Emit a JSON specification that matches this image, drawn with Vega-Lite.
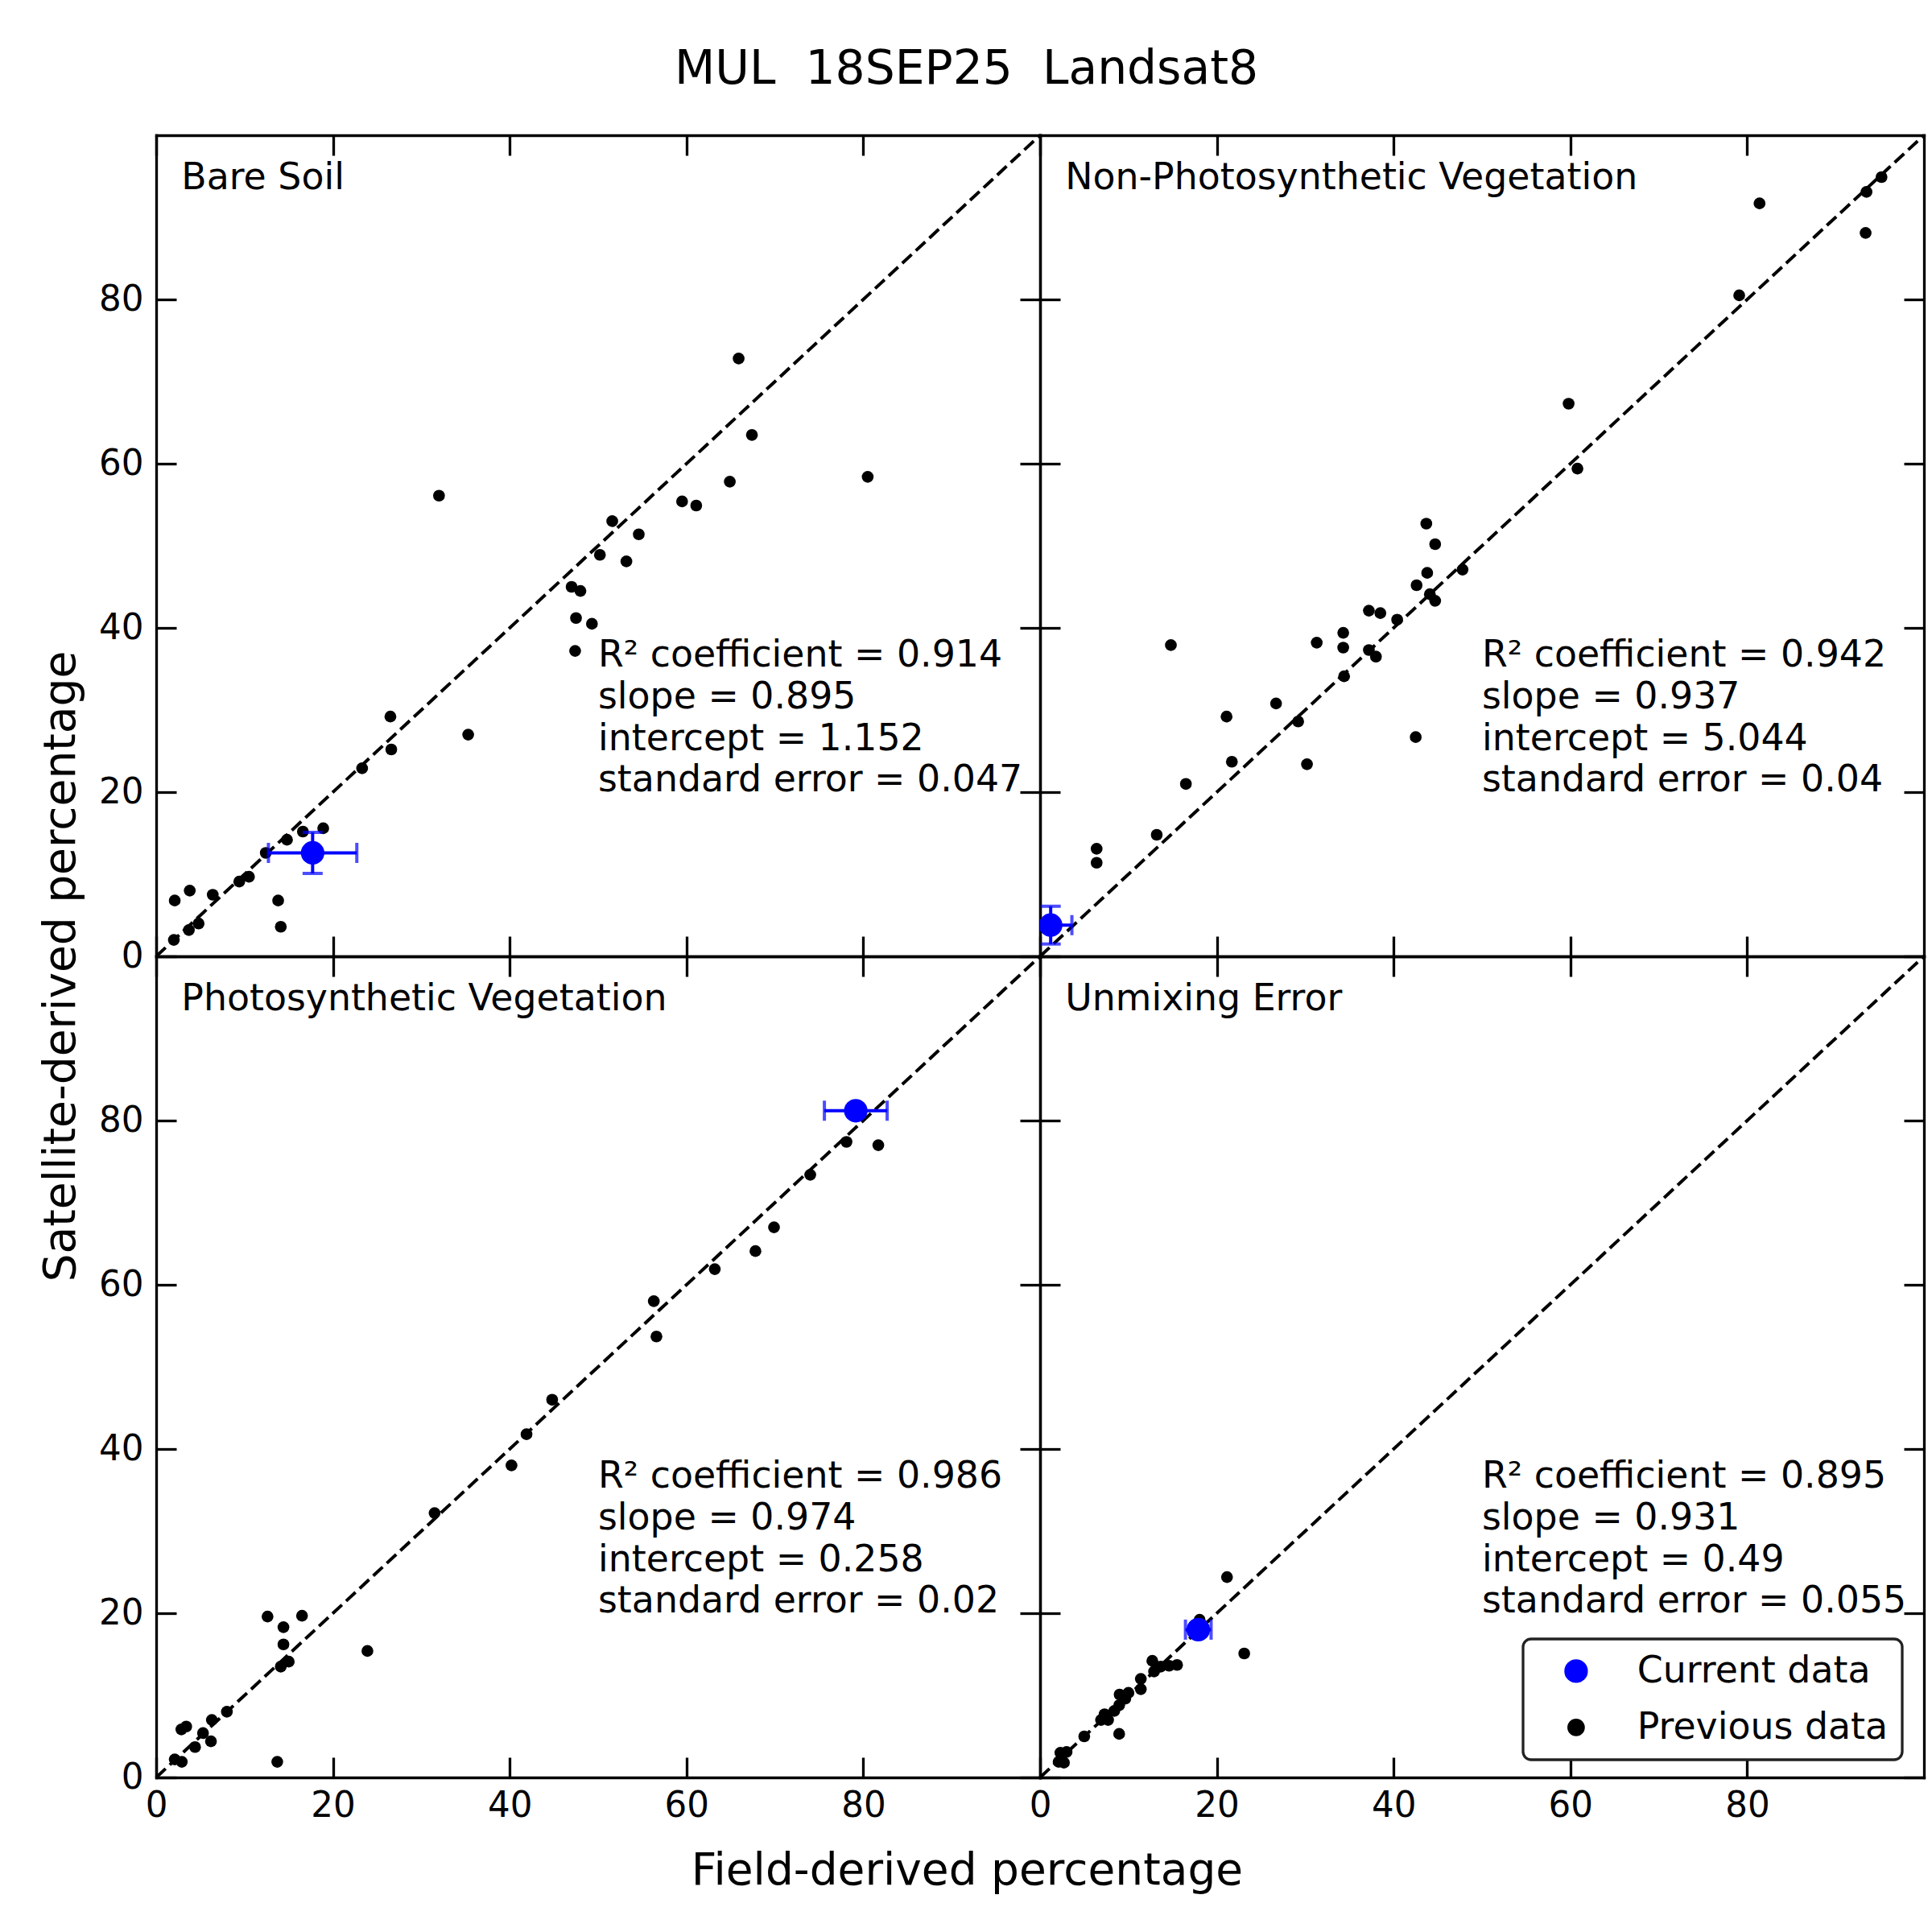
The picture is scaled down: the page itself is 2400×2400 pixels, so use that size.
{
  "$schema": "https://vega.github.io/schema/vega-lite/v6.json",
  "padding": {"left": 47, "top": 56, "right": 8, "bottom": 10},
  "title": {
    "text": "MUL\u00a0 18SEP25\u00a0 Landsat8",
    "font": "DejaVu Sans", "fontSize": 58.3, "fontWeight": "normal", "color": "black",
    "anchor": "start", "frame": "group", "dx": 644, "baseline": "alphabetic", "offset": 4
  },
  "config": {
    "font": "DejaVu Sans",
    "view": {"stroke": null},
    "axis": {
      "domainColor": "black", "domainWidth": 3.3, "domainCap": "square",
      "tickColor": "black", "tickWidth": 3.3, "tickSize": -25,
      "labelFont": "DejaVu Sans", "labelFontSize": 43.6, "labelColor": "black",
      "labelFlush": false, "labelOverlap": false, "grid": false,
      "titleFont": "DejaVu Sans", "titleFontSize": 55, "titleFontWeight": "normal", "titleColor": "black"
    },
    "axisX": {"labelPadding": 39.6},
    "axisY": {"labelPadding": 41},
    "circle": {"opacity": 1}
  },
  "datasets": {
    "previous": [
      {"panel": "Bare Soil", "field": 2.0, "satellite": 2.0},
      {"panel": "Bare Soil", "field": 2.1, "satellite": 6.8},
      {"panel": "Bare Soil", "field": 3.7, "satellite": 3.2},
      {"panel": "Bare Soil", "field": 3.8, "satellite": 8.0},
      {"panel": "Bare Soil", "field": 4.8, "satellite": 4.0},
      {"panel": "Bare Soil", "field": 6.4, "satellite": 7.5},
      {"panel": "Bare Soil", "field": 9.4, "satellite": 9.1},
      {"panel": "Bare Soil", "field": 10.5, "satellite": 9.7},
      {"panel": "Bare Soil", "field": 12.4, "satellite": 12.6},
      {"panel": "Bare Soil", "field": 13.8, "satellite": 6.8},
      {"panel": "Bare Soil", "field": 14.1, "satellite": 3.6},
      {"panel": "Bare Soil", "field": 14.8, "satellite": 14.2},
      {"panel": "Bare Soil", "field": 16.6, "satellite": 15.2},
      {"panel": "Bare Soil", "field": 18.9, "satellite": 15.6},
      {"panel": "Bare Soil", "field": 23.3, "satellite": 22.9},
      {"panel": "Bare Soil", "field": 26.6, "satellite": 25.2},
      {"panel": "Bare Soil", "field": 26.5, "satellite": 29.2},
      {"panel": "Bare Soil", "field": 32.0, "satellite": 56.1},
      {"panel": "Bare Soil", "field": 35.3, "satellite": 27.0},
      {"panel": "Bare Soil", "field": 47.0, "satellite": 45.0},
      {"panel": "Bare Soil", "field": 48.0, "satellite": 44.5},
      {"panel": "Bare Soil", "field": 47.5, "satellite": 41.2},
      {"panel": "Bare Soil", "field": 47.4, "satellite": 37.2},
      {"panel": "Bare Soil", "field": 49.3, "satellite": 40.5},
      {"panel": "Bare Soil", "field": 50.2, "satellite": 48.9},
      {"panel": "Bare Soil", "field": 51.6, "satellite": 53.0},
      {"panel": "Bare Soil", "field": 53.2, "satellite": 48.1},
      {"panel": "Bare Soil", "field": 54.6, "satellite": 51.4},
      {"panel": "Bare Soil", "field": 59.5, "satellite": 55.4},
      {"panel": "Bare Soil", "field": 61.1, "satellite": 54.9},
      {"panel": "Bare Soil", "field": 64.9, "satellite": 57.8},
      {"panel": "Bare Soil", "field": 65.9, "satellite": 72.8},
      {"panel": "Bare Soil", "field": 67.4, "satellite": 63.5},
      {"panel": "Bare Soil", "field": 80.5, "satellite": 58.4},

      {"panel": "Non-Photosynthetic Vegetation", "field": 6.4, "satellite": 13.1},
      {"panel": "Non-Photosynthetic Vegetation", "field": 6.4, "satellite": 11.4},
      {"panel": "Non-Photosynthetic Vegetation", "field": 13.2, "satellite": 14.8},
      {"panel": "Non-Photosynthetic Vegetation", "field": 14.8, "satellite": 37.9},
      {"panel": "Non-Photosynthetic Vegetation", "field": 16.5, "satellite": 21.0},
      {"panel": "Non-Photosynthetic Vegetation", "field": 21.1, "satellite": 29.2},
      {"panel": "Non-Photosynthetic Vegetation", "field": 21.7, "satellite": 23.7},
      {"panel": "Non-Photosynthetic Vegetation", "field": 26.7, "satellite": 30.8},
      {"panel": "Non-Photosynthetic Vegetation", "field": 29.2, "satellite": 28.6},
      {"panel": "Non-Photosynthetic Vegetation", "field": 30.2, "satellite": 23.4},
      {"panel": "Non-Photosynthetic Vegetation", "field": 31.3, "satellite": 38.2},
      {"panel": "Non-Photosynthetic Vegetation", "field": 34.3, "satellite": 39.4},
      {"panel": "Non-Photosynthetic Vegetation", "field": 34.3, "satellite": 37.6},
      {"panel": "Non-Photosynthetic Vegetation", "field": 34.4, "satellite": 34.1},
      {"panel": "Non-Photosynthetic Vegetation", "field": 37.2, "satellite": 42.1},
      {"panel": "Non-Photosynthetic Vegetation", "field": 38.5, "satellite": 41.8},
      {"panel": "Non-Photosynthetic Vegetation", "field": 37.2, "satellite": 37.3},
      {"panel": "Non-Photosynthetic Vegetation", "field": 38.0, "satellite": 36.5},
      {"panel": "Non-Photosynthetic Vegetation", "field": 40.4, "satellite": 41.0},
      {"panel": "Non-Photosynthetic Vegetation", "field": 42.5, "satellite": 26.7},
      {"panel": "Non-Photosynthetic Vegetation", "field": 42.6, "satellite": 45.2},
      {"panel": "Non-Photosynthetic Vegetation", "field": 43.7, "satellite": 52.7},
      {"panel": "Non-Photosynthetic Vegetation", "field": 43.8, "satellite": 46.7},
      {"panel": "Non-Photosynthetic Vegetation", "field": 44.1, "satellite": 44.1},
      {"panel": "Non-Photosynthetic Vegetation", "field": 44.7, "satellite": 50.2},
      {"panel": "Non-Photosynthetic Vegetation", "field": 44.7, "satellite": 43.3},
      {"panel": "Non-Photosynthetic Vegetation", "field": 47.8, "satellite": 47.1},
      {"panel": "Non-Photosynthetic Vegetation", "field": 59.8, "satellite": 67.3},
      {"panel": "Non-Photosynthetic Vegetation", "field": 60.8, "satellite": 59.4},
      {"panel": "Non-Photosynthetic Vegetation", "field": 79.1, "satellite": 80.5},
      {"panel": "Non-Photosynthetic Vegetation", "field": 81.4, "satellite": 91.7},
      {"panel": "Non-Photosynthetic Vegetation", "field": 93.4, "satellite": 88.1},
      {"panel": "Non-Photosynthetic Vegetation", "field": 93.5, "satellite": 93.1},
      {"panel": "Non-Photosynthetic Vegetation", "field": 95.2, "satellite": 94.9},

      {"panel": "Photosynthetic Vegetation", "field": 2.1, "satellite": 2.2},
      {"panel": "Photosynthetic Vegetation", "field": 2.9, "satellite": 1.9},
      {"panel": "Photosynthetic Vegetation", "field": 2.85, "satellite": 5.85},
      {"panel": "Photosynthetic Vegetation", "field": 3.4, "satellite": 6.2},
      {"panel": "Photosynthetic Vegetation", "field": 4.4, "satellite": 3.7},
      {"panel": "Photosynthetic Vegetation", "field": 5.3, "satellite": 5.4},
      {"panel": "Photosynthetic Vegetation", "field": 6.2, "satellite": 4.4},
      {"panel": "Photosynthetic Vegetation", "field": 6.3, "satellite": 7.0},
      {"panel": "Photosynthetic Vegetation", "field": 8.0, "satellite": 8.0},
      {"panel": "Photosynthetic Vegetation", "field": 12.6, "satellite": 19.6},
      {"panel": "Photosynthetic Vegetation", "field": 13.7, "satellite": 1.9},
      {"panel": "Photosynthetic Vegetation", "field": 14.1, "satellite": 13.5},
      {"panel": "Photosynthetic Vegetation", "field": 14.4, "satellite": 18.3},
      {"panel": "Photosynthetic Vegetation", "field": 14.4, "satellite": 16.2},
      {"panel": "Photosynthetic Vegetation", "field": 15.0, "satellite": 14.1},
      {"panel": "Photosynthetic Vegetation", "field": 16.5, "satellite": 19.7},
      {"panel": "Photosynthetic Vegetation", "field": 23.9, "satellite": 15.4},
      {"panel": "Photosynthetic Vegetation", "field": 31.5, "satellite": 32.2},
      {"panel": "Photosynthetic Vegetation", "field": 40.2, "satellite": 38.0},
      {"panel": "Photosynthetic Vegetation", "field": 41.9, "satellite": 41.8},
      {"panel": "Photosynthetic Vegetation", "field": 44.8, "satellite": 46.0},
      {"panel": "Photosynthetic Vegetation", "field": 56.3, "satellite": 58.0},
      {"panel": "Photosynthetic Vegetation", "field": 56.6, "satellite": 53.7},
      {"panel": "Photosynthetic Vegetation", "field": 63.2, "satellite": 61.9},
      {"panel": "Photosynthetic Vegetation", "field": 67.8, "satellite": 64.1},
      {"panel": "Photosynthetic Vegetation", "field": 69.9, "satellite": 67.0},
      {"panel": "Photosynthetic Vegetation", "field": 74.0, "satellite": 73.4},
      {"panel": "Photosynthetic Vegetation", "field": 78.1, "satellite": 77.4},
      {"panel": "Photosynthetic Vegetation", "field": 81.7, "satellite": 77.0},

      {"panel": "Unmixing Error", "field": 2.1, "satellite": 1.9},
      {"panel": "Unmixing Error", "field": 2.7, "satellite": 1.8},
      {"panel": "Unmixing Error", "field": 2.3, "satellite": 3.0},
      {"panel": "Unmixing Error", "field": 3.0, "satellite": 3.1},
      {"panel": "Unmixing Error", "field": 5.0, "satellite": 5.0},
      {"panel": "Unmixing Error", "field": 6.9, "satellite": 7.0},
      {"panel": "Unmixing Error", "field": 7.7, "satellite": 7.0},
      {"panel": "Unmixing Error", "field": 7.3, "satellite": 7.7},
      {"panel": "Unmixing Error", "field": 8.4, "satellite": 8.1},
      {"panel": "Unmixing Error", "field": 8.95, "satellite": 8.8},
      {"panel": "Unmixing Error", "field": 8.95, "satellite": 5.3},
      {"panel": "Unmixing Error", "field": 9.0, "satellite": 10.1},
      {"panel": "Unmixing Error", "field": 9.65, "satellite": 9.6},
      {"panel": "Unmixing Error", "field": 10.0, "satellite": 10.3},
      {"panel": "Unmixing Error", "field": 11.4, "satellite": 10.75},
      {"panel": "Unmixing Error", "field": 11.4, "satellite": 12.0},
      {"panel": "Unmixing Error", "field": 12.7, "satellite": 14.2},
      {"panel": "Unmixing Error", "field": 12.9, "satellite": 12.9},
      {"panel": "Unmixing Error", "field": 13.65, "satellite": 13.5},
      {"panel": "Unmixing Error", "field": 14.6, "satellite": 13.6},
      {"panel": "Unmixing Error", "field": 15.5, "satellite": 13.7},
      {"panel": "Unmixing Error", "field": 18.05, "satellite": 19.2},
      {"panel": "Unmixing Error", "field": 21.15, "satellite": 24.4},
      {"panel": "Unmixing Error", "field": 23.1, "satellite": 15.1}
    ],
    "current": [
      {"panel": "Bare Soil", "field": 17.7, "satellite": 12.6, "field_err": 5.0, "satellite_err": 2.5},
      {"panel": "Non-Photosynthetic Vegetation", "field": 1.2, "satellite": 3.8, "field_err": 2.4, "satellite_err": 2.3},
      {"panel": "Photosynthetic Vegetation", "field": 79.15, "satellite": 81.2, "field_err": 3.55},
      {"panel": "Unmixing Error", "field": 17.9, "satellite": 18.0, "field_err": 1.45}
    ]
  },
  "columns": 2,
  "spacing": 0,
  "bounds": "flush",
  "resolve": {"scale": {"color": "independent"}, "legend": {"color": "independent"}},
  "concat": [
    {
      "width": 1098, "height": 1020,
      "resolve": {"axis": {"x": "independent", "y": "independent"}},
      "layer": [
        {
          "data": {"values": [{}]},
          "mark": {"type": "rule", "strokeDash": [16, 7], "strokeWidth": 4, "color": "black"},
          "encoding": {
            "x": {"datum": 0, "type": "quantitative", "scale": {"domain": [0, 100], "nice": false, "zero": false}, "axis": {"orient": "bottom", "values": [0, 20, 40, 60, 80], "labels": false, "title": null}},
            "y": {"datum": 0, "type": "quantitative", "scale": {"domain": [0, 100], "nice": false, "zero": false}, "axis": {"orient": "left", "values": [0, 20, 40, 60, 80], "labels": true, "title": null}},
            "x2": {"datum": 100},
            "y2": {"datum": 100}
          }
        },
        {
          "data": {"values": [{}]},
          "mark": {"type": "rule", "strokeOpacity": 0},
          "encoding": {
            "x": {"datum": 0, "type": "quantitative", "axis": {"orient": "top", "values": [0, 20, 40, 60, 80], "labels": false, "title": null}},
            "y": {"datum": 0, "type": "quantitative", "axis": {"orient": "right", "values": [0, 20, 40, 60, 80], "labels": false, "title": null}},
            "x2": {"datum": 100},
            "y2": {"datum": 100}
          }
        },
        {
          "layer": [
            {
              "data": {"name": "previous"},
              "transform": [{"filter": {"field": "panel", "equal": "Bare Soil"}}],
              "mark": {"type": "circle", "size": 215, "color": "black", "opacity": 1, "clip": true},
              "encoding": {
                "x": {"field": "field", "type": "quantitative", "axis": null},
                "y": {"field": "satellite", "type": "quantitative", "axis": null}
              }
            },
            {
              "data": {"name": "current"},
              "transform": [{"filter": {"field": "panel", "equal": "Bare Soil"}}],
              "mark": {"type": "errorbar", "color": "blue", "thickness": 4, "size": 25, "ticks": true, "clip": true},
              "encoding": {
                "x": {"field": "field", "type": "quantitative", "axis": null},
                "xError": {"field": "field_err"},
                "y": {"field": "satellite", "type": "quantitative", "axis": null}
              }
            },
            {
              "data": {"name": "current"},
              "transform": [{"filter": {"field": "panel", "equal": "Bare Soil"}}],
              "mark": {"type": "errorbar", "color": "blue", "thickness": 4, "size": 25, "ticks": true, "clip": true},
              "encoding": {
                "y": {"field": "satellite", "type": "quantitative", "axis": null},
                "yError": {"field": "satellite_err"},
                "x": {"field": "field", "type": "quantitative", "axis": null}
              }
            },
            {
              "data": {"name": "current"},
              "transform": [{"filter": {"field": "panel", "equal": "Bare Soil"}}],
              "mark": {"type": "circle", "size": 855, "color": "blue", "opacity": 1, "clip": true},
              "encoding": {
                "x": {"field": "field", "type": "quantitative", "axis": null},
                "y": {"field": "satellite", "type": "quantitative", "axis": null}
              }
            },
            {
              "data": {"values": [{}]},
              "mark": {"type": "text", "text": "Bare Soil", "align": "left", "baseline": "alphabetic", "font": "DejaVu Sans", "fontSize": 45.8, "color": "black"},
              "encoding": {"x": {"datum": 2.85, "axis": null}, "y": {"datum": 93.4, "axis": null}}
            },
            {
              "data": {"values": [{}]},
              "mark": {"type": "text", "text": ["R² coefficient = 0.914", "slope = 0.895", "intercept = 1.152", "standard error = 0.047"], "align": "left", "baseline": "top", "lineHeight": 51.7, "font": "DejaVu Sans", "fontSize": 45.8, "color": "black"},
              "encoding": {"x": {"datum": 50.0, "axis": null}, "y": {"datum": 38.8, "axis": null}}
            }
          ]
        }
      ]
    },
    {
      "width": 1098, "height": 1020,
      "resolve": {"axis": {"x": "independent", "y": "independent"}},
      "layer": [
        {
          "data": {"values": [{}]},
          "mark": {"type": "rule", "strokeDash": [16, 7], "strokeWidth": 4, "color": "black"},
          "encoding": {
            "x": {"datum": 0, "type": "quantitative", "scale": {"domain": [0, 100], "nice": false, "zero": false}, "axis": {"orient": "bottom", "values": [0, 20, 40, 60, 80], "labels": false, "title": null}},
            "y": {"datum": 0, "type": "quantitative", "scale": {"domain": [0, 100], "nice": false, "zero": false}, "axis": {"orient": "left", "values": [0, 20, 40, 60, 80], "labels": false, "title": null}},
            "x2": {"datum": 100},
            "y2": {"datum": 100}
          }
        },
        {
          "data": {"values": [{}]},
          "mark": {"type": "rule", "strokeOpacity": 0},
          "encoding": {
            "x": {"datum": 0, "type": "quantitative", "axis": {"orient": "top", "values": [0, 20, 40, 60, 80], "labels": false, "title": null}},
            "y": {"datum": 0, "type": "quantitative", "axis": {"orient": "right", "values": [0, 20, 40, 60, 80], "labels": false, "title": null}},
            "x2": {"datum": 100},
            "y2": {"datum": 100}
          }
        },
        {
          "layer": [
            {
              "data": {"name": "previous"},
              "transform": [{"filter": {"field": "panel", "equal": "Non-Photosynthetic Vegetation"}}],
              "mark": {"type": "circle", "size": 215, "color": "black", "opacity": 1, "clip": true},
              "encoding": {
                "x": {"field": "field", "type": "quantitative", "axis": null},
                "y": {"field": "satellite", "type": "quantitative", "axis": null}
              }
            },
            {
              "data": {"name": "current"},
              "transform": [{"filter": {"field": "panel", "equal": "Non-Photosynthetic Vegetation"}}],
              "mark": {"type": "errorbar", "color": "blue", "thickness": 4, "size": 25, "ticks": true, "clip": true},
              "encoding": {
                "x": {"field": "field", "type": "quantitative", "axis": null},
                "xError": {"field": "field_err"},
                "y": {"field": "satellite", "type": "quantitative", "axis": null}
              }
            },
            {
              "data": {"name": "current"},
              "transform": [{"filter": {"field": "panel", "equal": "Non-Photosynthetic Vegetation"}}],
              "mark": {"type": "errorbar", "color": "blue", "thickness": 4, "size": 25, "ticks": true, "clip": true},
              "encoding": {
                "y": {"field": "satellite", "type": "quantitative", "axis": null},
                "yError": {"field": "satellite_err"},
                "x": {"field": "field", "type": "quantitative", "axis": null}
              }
            },
            {
              "data": {"name": "current"},
              "transform": [{"filter": {"field": "panel", "equal": "Non-Photosynthetic Vegetation"}}],
              "mark": {"type": "circle", "size": 855, "color": "blue", "opacity": 1, "clip": true},
              "encoding": {
                "x": {"field": "field", "type": "quantitative", "axis": null},
                "y": {"field": "satellite", "type": "quantitative", "axis": null}
              }
            },
            {
              "data": {"values": [{}]},
              "mark": {"type": "text", "text": "Non-Photosynthetic Vegetation", "align": "left", "baseline": "alphabetic", "font": "DejaVu Sans", "fontSize": 45.8, "color": "black"},
              "encoding": {"x": {"datum": 2.85, "axis": null}, "y": {"datum": 93.4, "axis": null}}
            },
            {
              "data": {"values": [{}]},
              "mark": {"type": "text", "text": ["R² coefficient = 0.942", "slope = 0.937", "intercept = 5.044", "standard error = 0.04"], "align": "left", "baseline": "top", "lineHeight": 51.7, "font": "DejaVu Sans", "fontSize": 45.8, "color": "black"},
              "encoding": {"x": {"datum": 50.0, "axis": null}, "y": {"datum": 38.8, "axis": null}}
            }
          ]
        }
      ]
    },
    {
      "width": 1098, "height": 1020,
      "resolve": {"axis": {"x": "independent", "y": "independent"}},
      "layer": [
        {
          "data": {"values": [{}]},
          "mark": {"type": "rule", "strokeDash": [16, 7], "strokeWidth": 4, "color": "black"},
          "encoding": {
            "x": {"datum": 0, "type": "quantitative", "scale": {"domain": [0, 100], "nice": false, "zero": false}, "axis": {"orient": "bottom", "values": [0, 20, 40, 60, 80], "labels": true, "title": "Field-derived percentage", "titleX": 1007, "titleY": 132, "titleAlign": "center", "titleBaseline": "alphabetic"}},
            "y": {"datum": 0, "type": "quantitative", "scale": {"domain": [0, 100], "nice": false, "zero": false}, "axis": {"orient": "left", "values": [0, 20, 40, 60, 80], "labels": true, "title": "Satellite-derived percentage", "titleX": -102, "titleY": 12, "titleAngle": 270, "titleAlign": "center", "titleBaseline": "alphabetic"}},
            "x2": {"datum": 100},
            "y2": {"datum": 100}
          }
        },
        {
          "data": {"values": [{}]},
          "mark": {"type": "rule", "strokeOpacity": 0},
          "encoding": {
            "x": {"datum": 0, "type": "quantitative", "axis": {"orient": "top", "values": [0, 20, 40, 60, 80], "labels": false, "title": null}},
            "y": {"datum": 0, "type": "quantitative", "axis": {"orient": "right", "values": [0, 20, 40, 60, 80], "labels": false, "title": null}},
            "x2": {"datum": 100},
            "y2": {"datum": 100}
          }
        },
        {
          "layer": [
            {
              "data": {"name": "previous"},
              "transform": [{"filter": {"field": "panel", "equal": "Photosynthetic Vegetation"}}],
              "mark": {"type": "circle", "size": 215, "color": "black", "opacity": 1, "clip": true},
              "encoding": {
                "x": {"field": "field", "type": "quantitative", "axis": null},
                "y": {"field": "satellite", "type": "quantitative", "axis": null}
              }
            },
            {
              "data": {"name": "current"},
              "transform": [{"filter": {"field": "panel", "equal": "Photosynthetic Vegetation"}}],
              "mark": {"type": "errorbar", "color": "blue", "thickness": 4, "size": 25, "ticks": true, "clip": true},
              "encoding": {
                "x": {"field": "field", "type": "quantitative", "axis": null},
                "xError": {"field": "field_err"},
                "y": {"field": "satellite", "type": "quantitative", "axis": null}
              }
            },
            {
              "data": {"name": "current"},
              "transform": [{"filter": {"field": "panel", "equal": "Photosynthetic Vegetation"}}],
              "mark": {"type": "circle", "size": 855, "color": "blue", "opacity": 1, "clip": true},
              "encoding": {
                "x": {"field": "field", "type": "quantitative", "axis": null},
                "y": {"field": "satellite", "type": "quantitative", "axis": null}
              }
            },
            {
              "data": {"values": [{}]},
              "mark": {"type": "text", "text": "Photosynthetic Vegetation", "align": "left", "baseline": "alphabetic", "font": "DejaVu Sans", "fontSize": 45.8, "color": "black"},
              "encoding": {"x": {"datum": 2.85, "axis": null}, "y": {"datum": 93.4, "axis": null}}
            },
            {
              "data": {"values": [{}]},
              "mark": {"type": "text", "text": ["R² coefficient = 0.986", "slope = 0.974", "intercept = 0.258", "standard error = 0.02"], "align": "left", "baseline": "top", "lineHeight": 51.7, "font": "DejaVu Sans", "fontSize": 45.8, "color": "black"},
              "encoding": {"x": {"datum": 50.0, "axis": null}, "y": {"datum": 38.8, "axis": null}}
            }
          ]
        }
      ]
    },
    {
      "width": 1098, "height": 1020,
      "resolve": {"axis": {"x": "independent", "y": "independent"}},
      "layer": [
        {
          "data": {"values": [{}]},
          "mark": {"type": "rule", "strokeDash": [16, 7], "strokeWidth": 4, "color": "black"},
          "encoding": {
            "x": {"datum": 0, "type": "quantitative", "scale": {"domain": [0, 100], "nice": false, "zero": false}, "axis": {"orient": "bottom", "values": [0, 20, 40, 60, 80], "labels": true, "title": null}},
            "y": {"datum": 0, "type": "quantitative", "scale": {"domain": [0, 100], "nice": false, "zero": false}, "axis": {"orient": "left", "values": [0, 20, 40, 60, 80], "labels": false, "title": null}},
            "x2": {"datum": 100},
            "y2": {"datum": 100}
          }
        },
        {
          "data": {"values": [{}]},
          "mark": {"type": "rule", "strokeOpacity": 0},
          "encoding": {
            "x": {"datum": 0, "type": "quantitative", "axis": {"orient": "top", "values": [0, 20, 40, 60, 80], "labels": false, "title": null}},
            "y": {"datum": 0, "type": "quantitative", "axis": {"orient": "right", "values": [0, 20, 40, 60, 80], "labels": false, "title": null}},
            "x2": {"datum": 100},
            "y2": {"datum": 100}
          }
        },
        {
          "layer": [
            {
              "data": {"name": "previous"},
              "transform": [{"filter": {"field": "panel", "equal": "Unmixing Error"}}],
              "mark": {"type": "circle", "size": 215, "opacity": 1, "clip": true},
              "encoding": {
                "x": {"field": "field", "type": "quantitative", "axis": null},
                "y": {"field": "satellite", "type": "quantitative", "axis": null},
                "color": {
                  "datum": "Previous data", "type": "nominal",
                  "scale": {"domain": ["Current data", "Previous data"], "range": ["blue", "black"]},
                  "legend": {
                    "title": null, "orient": "none", "legendX": 600, "legendY": 848,
                    "strokeColor": "#222222", "cornerRadius": 10, "fillColor": "white",
                    "padding": 17, "rowPadding": 23, "symbolOffset": 26, "labelOffset": 53, "labelLimit": 0,
                    "labelFont": "DejaVu Sans", "labelFontSize": 45.8, "labelColor": "black",
                    "symbolType": "circle", "symbolSize": 855, "symbolStrokeWidth": 0, "symbolOpacity": 1,
                    "encode": {
                      "legend": {"update": {"strokeWidth": {"value": 3.3}}},
                      "symbols": {"update": {"size": {"signal": "datum.value === 'Current data' ? 855 : 471"}}}
                    }
                  }
                }
              }
            },
            {
              "data": {"name": "current"},
              "transform": [{"filter": {"field": "panel", "equal": "Unmixing Error"}}],
              "mark": {"type": "errorbar", "color": "blue", "thickness": 4, "size": 25, "ticks": true, "clip": true},
              "encoding": {
                "x": {"field": "field", "type": "quantitative", "axis": null},
                "xError": {"field": "field_err"},
                "y": {"field": "satellite", "type": "quantitative", "axis": null}
              }
            },
            {
              "data": {"name": "current"},
              "transform": [{"filter": {"field": "panel", "equal": "Unmixing Error"}}],
              "mark": {"type": "circle", "size": 855, "opacity": 1, "clip": true},
              "encoding": {
                "x": {"field": "field", "type": "quantitative", "axis": null},
                "y": {"field": "satellite", "type": "quantitative", "axis": null},
                "color": {"datum": "Current data", "type": "nominal"}
              }
            },
            {
              "data": {"values": [{}]},
              "mark": {"type": "text", "text": "Unmixing Error", "align": "left", "baseline": "alphabetic", "font": "DejaVu Sans", "fontSize": 45.8, "color": "black"},
              "encoding": {"x": {"datum": 2.85, "axis": null}, "y": {"datum": 93.4, "axis": null}}
            },
            {
              "data": {"values": [{}]},
              "mark": {"type": "text", "text": ["R² coefficient = 0.895", "slope = 0.931", "intercept = 0.49", "standard error = 0.055"], "align": "left", "baseline": "top", "lineHeight": 51.7, "font": "DejaVu Sans", "fontSize": 45.8, "color": "black"},
              "encoding": {"x": {"datum": 50.0, "axis": null}, "y": {"datum": 38.8, "axis": null}}
            }
          ]
        }
      ]
    }
  ]
}
